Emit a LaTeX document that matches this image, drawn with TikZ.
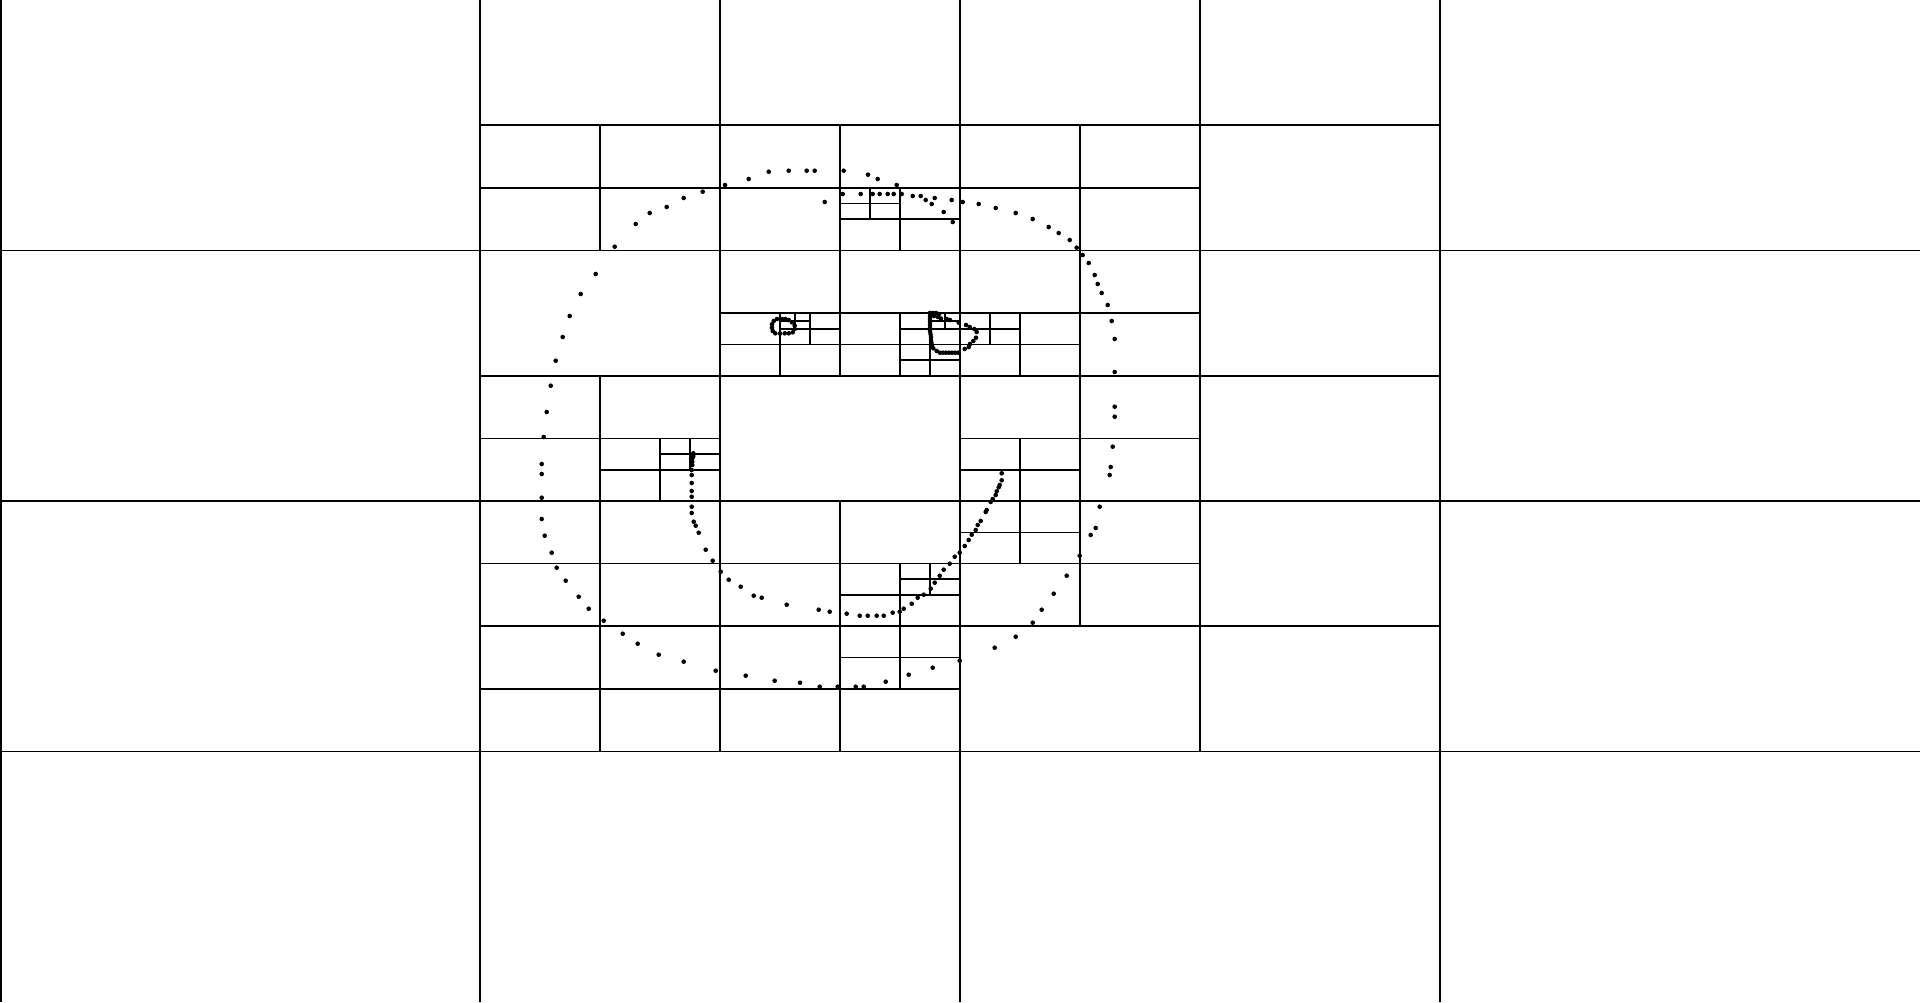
\documentclass[tikz,border=0pt]{standalone}
\newcommand\qsplit[4]{\draw[qline] ({#1+0.5*#3},{#2}) -- ({#1+0.5*#3},{#2+#4}) ({#1},{#2+0.5*#4}) -- ({#1+#3},{#2+0.5*#4});}
\begin{document}
\begin{tikzpicture}[x=0.01cm,y=-0.01cm,
  qline/.style={line width=0.016cm, draw=black},
  qdot/.style={fill=black}]
\useasboundingbox (0,0) rectangle (1920,1002);
\fill[white] (0,0) rectangle (1920,1002);
% outer left border
\draw[qline] (0.8,0) -- (0.8,1002);
% level 0
\qsplit{0}{0}{1920}{1002}
% level 1
\foreach \x/\y in {0/0,960/0,0/501,960/501} {\qsplit{\x}{\y}{960}{501}}
% level 2
\foreach \x/\y in {480/0,960/0,480/250.5,960/250.5,480/501,960/501} {\qsplit{\x}{\y}{480}{250.5}}
% level 3
\foreach \x/\y in {480/125.25,720/125.25,960/125.25,720/250.5,960/250.5,480/375.75,960/375.75,480/501,720/501,960/501,480/626.25,720/626.25} {\qsplit{\x}{\y}{240}{125.25}}
% level 4
\foreach \x/\y in {840/187.875,720/313.125,840/313.125,960/313.125,600/438.375,960/438.375,840/563.625,840/626.25,960/501} {\qsplit{\x}{\y}{120}{62.625}}
% level 5
\foreach \x/\y in {840/187.875,780/313.125,900/313.125,900/344.4375,960/313.125,660/438.375,900/563.625} {\qsplit{\x}{\y}{60}{31.3125}}
% level 6
\foreach \x/\y in {780/313.125,930/313.125} {\qsplit{\x}{\y}{30}{15.65625}}
% points: outer curve
\foreach \x/\y in {725/185,748.7/179,768.7/171.7,788.7/170.7,806.7/170.7,814.7/170.7,843.7/170.7,868/174.7,877.7/179,896.7/185,
951.7/200,962.7/202,978.7/204,995.7/208,1015.7/213,1032.7/219,1048.7/227,1058.7/233,1069.7/240,1076.7/247.7,1082.7/255,1088.7/263,1094.7/275,1097.7/284,1101.7/293,1107.7/305,1111.7/321,1114.7/339,1114.7/372,1114.7/406.7,1114.7/416.7,1112.7/446.7,1110.7/467,1109.7/475,1099.7/506.7,1095.7/528,1090.7/535,1079.7/555.7,1066.7/575.7,1053.7/593.7,1041.7/609.7,1032.7/622.7,1015.7/636.7,994.7/647.7,959.7/660.7,932.7/667.7,908.7/674.7,885.7/681.7,863.7/686.7,855.7/686.7,837.7/686.7,819.7/686.7,800/682.7,774.7/680.7,745.7/675.7,715.7/670.7,683.7/661.7,658.7/654.7,637.7/643.7,622.7/633.7,603.7/620.7,588.7/608.7,578.7/596.7,565.7/580.7,556.7/567.7,551.7/552.7,544.7/535.7,541.7/519,541.7/497.7,541.7/474,541.7/464,543.7/437,546.7/412,550.7/385.7,555.7/360.7,562.7/337,569.7/316,580.7/294,595.7/274,614.7/246.7,635.7/224,649.7/213,666.7/207,683.7/198,702.7/191.7}
  {\fill[qdot] (\x,\y) circle[radius=0.023cm];}
% points: upper inner row
\foreach \x/\y in {824.7/202,842.7/194,860.7/194,872.7/194,879.7/194,887.7/194,893.7/194,901.7/194,912.7/196,920.7/196,925.7/200,934.7/198,931.7/204,943.7/212,952.7/222}
  {\fill[qdot] (\x,\y) circle[radius=0.023cm];}
% points: inner curve
\foreach \x/\y in {693.3/453.3,693.3/456,692.3/458.3,692.3/461.7,692.3/465,691.7/470,691.7/475,691.7/483,691.7/491,691.7/496.7,691.7/506.7,691.7/513,693.7/521.7,695.7/525.7,698.7/532.7,705.7/549.7,712.7/560.7,720.7/571.7,728.7/579.7,740.7/586.7,753.7/595.7,761.7/597.7,786.7/604.7,818.7/609.7,829.7/611.7,846.7/613.7,859.7/615.7,867.7/615.7,876.7/615.7,883.7/615.7,892.7/612.7,899.7/611.7,903.7/608.7,911.7/603.7,917.7/597.7,923.7/594.7,930.7/588.7,934.7/582.7,939.7/575.7,943.7/569.7,949.7/563.7,954.7/556.7,959.7/552.7,964.7/546,968.7/540,971.7/534.7,975.7/530,977.7/525,980.7/521,985.7/512,986.7/510,990.7/502,992.7/499,995.7/495,996.7/491.3,998.7/487.3,999.7/485,1001.7/480.3,1001.7/473.3}
  {\fill[qdot] (\x,\y) circle[radius=0.023cm];}
% points: small loop
\foreach \x/\y in {777/319,773.7/321,772/324.3,772/327.7,772.7/331,775.3/333.3,780/333.5,784.7/333.3,788.7/333.3,792.7/332.3,794.7/329,794.7/325.7,792/322.3,788.7/320,785.3/319,782/319}
  {\fill[qdot] (\x,\y) circle[radius=0.023cm];}
% points: C-shaped loop
\foreach \x/\y in {930/313,933/313,936/313,939/314,930/316,934/316,938/317,930/319,941/318.5,946.7/319,950/320,958.7/322.7,
930/322,930/325,930/328,930/331,930.5/334,931/337,931/340,931.5/343,932/346,933.3/348.3,936.7/351,
940/352.7,943/352.7,946/352.7,949/352.7,952/352.7,955/352.7,958/352.7,
964.7/349,968.7/347,970/344,973.3/341,976/337.7,976.7/332,974.3/329,969.7/327,966/325}
  {\fill[qdot] (\x,\y) circle[radius=0.023cm];}
\end{tikzpicture}
\end{document}
